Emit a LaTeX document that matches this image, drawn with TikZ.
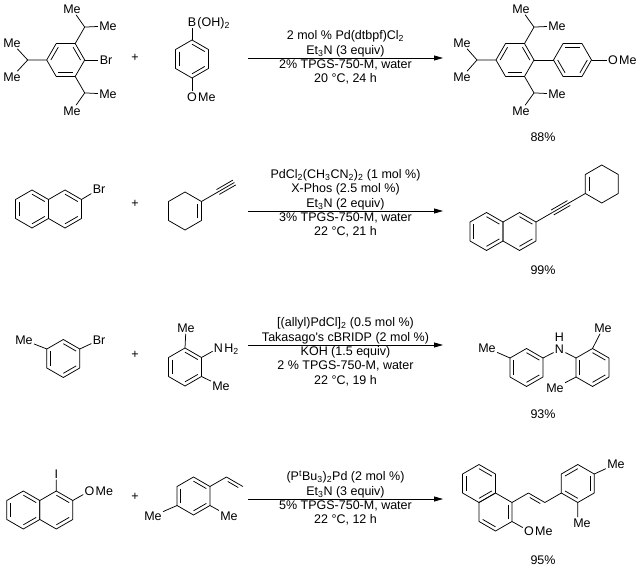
\documentclass[tikz,border=0pt]{standalone}
\usepackage{fontspec}
\setmainfont{Liberation Sans}
\usetikzlibrary{calc,positioning,arrows.meta}
\begin{document}
\begin{tikzpicture}[x=1pt,y=-1pt,
  bond/.style={line width=0.75pt},
  atom/.style={font=\fontsize{12.5}{14}\selectfont,inner sep=1.2pt},
  cond/.style={font=\fontsize{12.5}{14.5}\selectfont,align=center,inner sep=1pt},
  rxn/.style={line width=0.75pt,-{Triangle[length=9pt,width=5pt]}}]
\def\bl{19pt}
\def\hexring#1#2#3#4{%
  \coordinate (#1) at #2;
  \foreach \i in {0,...,5} \coordinate (#1-\i) at ($(#1)+(#3+\i*60:\bl)$);
  \draw[bond,line join=round] (#1-0)--(#1-1)--(#1-2)--(#1-3)--(#1-4)--(#1-5)--cycle;
  \foreach \i in {#4} {\pgfmathtruncatemacro\j{mod(\i+1,6)}
    \draw[bond] ($(#1)!0.78!(#1-\i)$) -- ($(#1)!0.78!(#1-\j)$);}}
\def\dbond#1#2{\draw[bond] (#1)--(#2);
  \draw[bond] ($(#1)!.18!(#2)!3.2pt!-90:(#2)$) -- ($(#2)!.18!(#1)!3.2pt!90:(#1)$);}
\def\tbond#1#2{\draw[bond] (#1)--(#2);
  \draw[bond] ($(#1)!2.8pt!90:(#2)$) -- ($(#2)!2.8pt!-90:(#1)$);
  \draw[bond] ($(#1)!2.8pt!-90:(#2)$) -- ($(#2)!2.8pt!90:(#1)$);}
\useasboundingbox (0,0) rectangle (639,572);

% row 1
\hexring{tb}{(65.7,60)}{0}{0,2,4}
\coordinate (tbA) at ($(tb-1)+(60:\bl)$);
\coordinate (tbB) at ($(tb-5)+(-60:\bl)$);
\coordinate (tbC) at ($(tb-3)+(180:\bl)$);
\path
(106,60) node[atom] (br1) {Br}
(72,9) node[atom] (me1) {Me}
(108,26) node[atom] (me2) {Me}
(108,94) node[atom] (me3) {Me}
(72,111) node[atom] (me4) {Me}
(12,43) node[atom] (me5) {Me}
(12,77) node[atom] (me6) {Me}
(135,58) node[atom] (plus1) {+}
;
\draw[bond] (tb-0) -- (br1);
\draw[bond] (tb-1) -- (tbA) -- (me2) (tbA) -- (me1);
\draw[bond] (tb-5) -- (tbB) -- (me3) (tbB) -- (me4);
\draw[bond] (tb-3) -- (tbC) -- (me5) (tbC) -- (me6);

\hexring{bo}{(192,59)}{30}{0,2,4}
\node[atom] (bor) at (192,22) {B};
\node[atom,base right=-1.5pt of bor] (boh) {(OH)\textsubscript{2}};
\node[atom] (ox1) at (192,97) {O};
\node[atom,base right=-1.5pt of ox1] (ome1) {Me};
\draw[bond] (bo-1) -- (bor) (bo-4) -- (ox1);

\coordinate (r1s) at (248,58);
\coordinate (r1e) at (443,58);
\draw[rxn] (r1s) -- (r1e)
  node[midway,above,cond] (c1a) {2 mol \% Pd(dtbpf)Cl\textsubscript{2}\\Et\textsubscript{3}N (3 equiv)}
  node[midway,below,cond] (c1b) {2\% TPGS-750-M, water\\20 °C, 24 h};

\hexring{pa}{(515,60)}{0}{0,2,4}
\hexring{pb}{(572.5,60)}{0}{1,3,5}
\coordinate (paA) at ($(pa-1)+(60:\bl)$);
\coordinate (paB) at ($(pa-5)+(-60:\bl)$);
\coordinate (paC) at ($(pa-3)+(180:\bl)$);
\path
(521,9) node[atom] (me7) {Me}
(557,26) node[atom] (me8) {Me}
(557,94) node[atom] (me9) {Me}
(521,111) node[atom] (me10) {Me}
(462,43) node[atom] (me11) {Me}
(462,77) node[atom] (me12) {Me}
(613,60) node[atom] (ox2) {O}
(543,137) node[atom] (yd1) {88\%}
;
\node[atom,base right=-1.5pt of ox2] (ome2) {Me};
\draw[bond] (pa-0) -- (pb-3) (pb-0) -- (ox2);
\draw[bond] (pa-1) -- (paA) -- (me8) (paA) -- (me7);
\draw[bond] (pa-5) -- (paB) -- (me9) (paB) -- (me10);
\draw[bond] (pa-3) -- (paC) -- (me11) (paC) -- (me12);

% row 2
\hexring{nl}{(32,209)}{30}{0,2,4}
\hexring{nr}{(65,209)}{30}{0,4}
\node[atom] (br2) at (99,189) {Br};
\draw[bond] (nr-0) -- (br2);
\node[atom] (plus2) at (135,204) {+};
\hexring{ch}{(185,211)}{30}{5}
\coordinate (chA) at ($(ch-0)+(30:\bl)$);
\coordinate (chB) at ($(chA)+(30:\bl)$);
\draw[bond] (ch-0) -- (chA);
\tbond{chA}{chB}

\coordinate (r2s) at (248,211);
\coordinate (r2e) at (443,211);
\draw[rxn] (r2s) -- (r2e)
  node[midway,above,cond] (c2a) {PdCl\textsubscript{2}(CH\textsubscript{3}CN\textsubscript{2})\textsubscript{2} (1 mol \%)\\X-Phos (2.5 mol \%)\\Et\textsubscript{3}N (2 equiv)}
  node[midway,below,cond] (c2b) {3\% TPGS-750-M, water\\22 °C, 21 h};

\hexring{ql}{(486.5,231.5)}{30}{0,2,4}
\hexring{qr}{(519.5,231.5)}{30}{0,4}
\coordinate (qA) at ($(qr-0)+(30:\bl)$);
\coordinate (qB) at ($(qA)+(30:\bl)$);
\draw[bond] (qr-0) -- (qA);
\tbond{qA}{qB}
\hexring{qc}{($(qB)+(30:2*\bl)$)}{30}{2}
\draw[bond] (qB) -- (qc-3);
\node[atom] (yd2) at (543,270) {99\%};

% row 3
\hexring{mt}{(63.3,358.5)}{30}{0,2,4}
\node[atom] (me13) at (24,340) {Me};
\node[atom] (br3) at (99,340) {Br};
\draw[bond] (mt-2) -- (me13) (mt-0) -- (br3);
\node[atom] (plus3) at (135,355) {+};
\hexring{da}{(185,367)}{30}{0,2,4}
\node[atom] (nh1) at (218.5,348) {N};
\node[atom,base right=-1.5pt of nh1] (nh2) {H\textsubscript{2}};
\node[atom] (me14) at (186,328) {Me};
\node[atom] (me15) at (221,386) {Me};
\draw[bond] (da-0) -- (nh1) (da-1) -- (me14) (da-5) -- (me15);

\coordinate (r3s) at (248,345);
\coordinate (r3e) at (443,345);
\draw[rxn] (r3s) -- (r3e)
  node[midway,above,cond] (c3a) {[(allyl)PdCl]\textsubscript{2} (0.5 mol \%)\\Takasago\textquotesingle s cBRIDP (2 mol \%)}
  node[midway,below,cond] (c3b) {KOH (1.5 equiv)\\2 \% TPGS-750-M, water\\22 °C, 19 h};

\hexring{ta}{(526.5,367.5)}{30}{0,2,4}
\hexring{tc}{(592.5,367.5)}{30}{0,2,4}
\node[atom] (nx) at (559.5,349.5) {N};
\node[atom,above=0.5pt of nx] (hx) {H};
\node[atom] (me16) at (487,348) {Me};
\node[atom] (me17) at (603,328) {Me};
\node[atom] (me18) at (555,388) {Me};
\draw[bond] (ta-0) -- (nx) -- (tc-2);
\draw[bond] (ta-2) -- (me16) (tc-1) -- (me17) (tc-3) -- (me18);
\node[atom] (yd3) at (543,414) {93\%};

% row 4
\hexring{il}{(23.3,510)}{30}{0,2,4}
\hexring{ir}{(56.3,510)}{30}{0,4}
\node[atom] (io) at (56.3,474) {I};
\node[atom] (ox3) at (89.5,491) {O};
\node[atom,base right=-1.5pt of ox3] (ome3) {Me};
\draw[bond] (ir-1) -- (io) (ir-0) -- (ox3);
\node[atom] (plus4) at (135,497) {+};
\hexring{st}{(193.5,496)}{30}{0,2,4}
\coordinate (stA) at ($(st-0)+(30:\bl)$);
\coordinate (stB) at ($(stA)+(-30:\bl)$);
\draw[bond] (st-0) -- (stA);
\dbond{stA}{stB}
\node[atom] (me19) at (229,516) {Me};
\node[atom] (me20) at (153,516) {Me};
\draw[bond] (st-5) -- (me19) (st-3) -- (me20);

\coordinate (r4s) at (248,499);
\coordinate (r4e) at (443,499);
\draw[rxn] (r4s) -- (r4e)
  node[midway,above,cond] (c4a) {(P\textsuperscript{t}Bu\textsubscript{3})\textsubscript{2}Pd (2 mol \%)\\Et\textsubscript{3}N (3 equiv)}
  node[midway,below,cond] (c4b) {5\% TPGS-750-M, water\\22 °C, 12 h};

\hexring{ua}{(479,483.5)}{30}{0,2,4}
\hexring{ub}{(495.5,512)}{30}{3,5}
\coordinate (uA) at ($(ub-0)+(30:\bl)$);
\coordinate (uB) at ($(uA)+(-30:\bl)$);
\draw[bond] (ub-0) -- (uA);
\dbond{uA}{uB}
\hexring{uc}{($(uB)+(30:2*\bl)$)}{30}{1,3,5}
\draw[bond] (uB) -- (uc-3);
\node[atom] (me21) at (616,464) {Me};
\node[atom] (me22) at (582,523) {Me};
\node[atom] (ox4) at (529,531) {O};
\node[atom,base right=-1.5pt of ox4] (ome4) {Me};
\draw[bond] (uc-0) -- (me21) (uc-4) -- (uc-4 |- me22.north) (ub-5) -- (ox4);
\node[atom] (yd4) at (543,560) {95\%};
\end{tikzpicture}
\end{document}
